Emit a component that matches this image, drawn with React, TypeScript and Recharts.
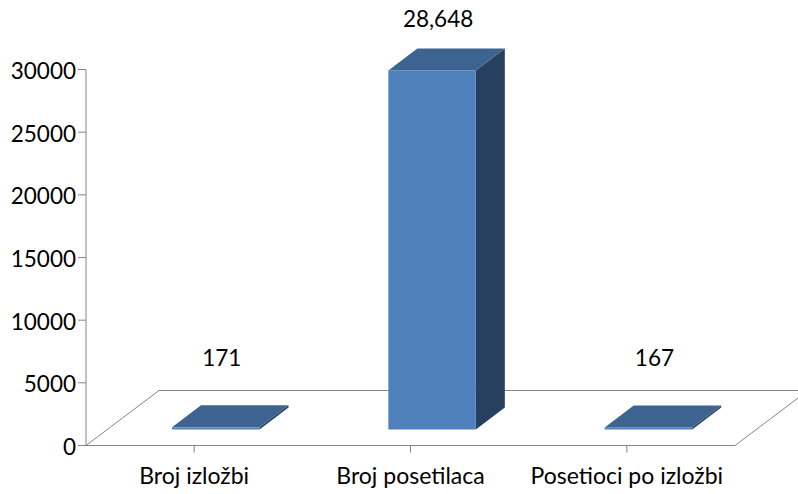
import { Bar, BarChart, LabelList, XAxis, YAxis, usePlotArea } from "recharts";

const categories = ["Broj izložbi", "Broj posetilaca", "Posetioci po izložbi"];
const seriesValues = [171, 28648, 167];
const valueLabels = ["171", "28,648", "167"];
const yTicks = [0, 5000, 10000, 15000, 20000, 25000, 30000];

const chartData = categories.map((name, i) => ({ name, value: seriesValues[i] }));

const FONT = "Lato, Carlito, sans-serif";
const AXIS_COLOR = "#868686";
const SHIFT_X = 22;
const SHIFT_Y = -16;
const DEPTH_X = 29;
const DEPTH_Y = -22;
const LABEL_LIFT = [70, 52, 70];

// 3D floor behind the bars
function Floor() {
  const plot = usePlotArea();
  if (!plot) return null;
  const left = plot.x;
  const right = plot.x + plot.width;
  const bottom = plot.y + plot.height;
  const dx = 73;
  const dy = -55;
  return (
    <g stroke={AXIS_COLOR} strokeWidth={1} fill="none">
      <line x1={left} y1={bottom} x2={left + dx} y2={bottom + dy} />
      <line x1={left + dx} y1={bottom + dy} x2={right + dx} y2={bottom + dy} />
      <line x1={right} y1={bottom} x2={right + dx} y2={bottom + dy} />
    </g>
  );
}

function Box3D(props: any) {
  const { x, y, width, height } = props;
  const x0 = x + SHIFT_X;
  const y0 = y + SHIFT_Y;
  const x1 = x0 + width;
  const y1 = y0 + height;
  return (
    <g>
      <path
        d={`M${x1},${y0} L${x1 + DEPTH_X},${y0 + DEPTH_Y} L${x1 + DEPTH_X},${y1 + DEPTH_Y} L${x1},${y1} Z`}
        fill="#28405F"
      />
      <path
        d={`M${x0},${y0} L${x0 + DEPTH_X},${y0 + DEPTH_Y} L${x1 + DEPTH_X},${y0 + DEPTH_Y} L${x1},${y0} Z`}
        fill="#3D6491"
      />
      <rect x={x0} y={y0} width={width} height={height} fill="#4F81BD" />
    </g>
  );
}

function ValueLabel(props: any) {
  const { x, y, width, index } = props;
  return (
    <text
      x={x + width / 2 + SHIFT_X + 6}
      y={y + SHIFT_Y - LABEL_LIFT[index]}
      textAnchor="middle"
      dominantBaseline="central"
      fontFamily={FONT}
      fontSize={22.5}
      fill="#000"
    >
      {valueLabels[index]}
    </text>
  );
}

export default function App() {
  return (
    <div style={{ position: "absolute", left: 0, top: 0, width: 798, height: 494, overflow: "hidden" }}>
      <BarChart
        width={798}
        height={494}
        data={chartData}
        margin={{ top: 69.5, right: 63, bottom: 0, left: 0 }}
        style={{ overflow: "visible" }}
      >
        <Floor />
        <XAxis
          dataKey="name"
          height={48.5}
          interval={0}
          tickSize={7}
          tickMargin={15}
          axisLine={{ stroke: AXIS_COLOR }}
          tickLine={{ stroke: AXIS_COLOR }}
          tick={{ fill: "#000", fontFamily: FONT, fontSize: 23 }}
        />
        <YAxis
          width={86}
          domain={[0, 30000]}
          ticks={yTicks}
          tickSize={8}
          tickMargin={2}
          axisLine={{ stroke: AXIS_COLOR }}
          tickLine={{ stroke: AXIS_COLOR }}
          tick={{ fill: "#000", fontFamily: FONT, fontSize: 22.5, dy: 1.5 }}
        />
        <Bar dataKey="value" barSize={87.5} shape={Box3D} isAnimationActive={false}>
          <LabelList dataKey="value" content={ValueLabel} />
        </Bar>
      </BarChart>
    </div>
  );
}
